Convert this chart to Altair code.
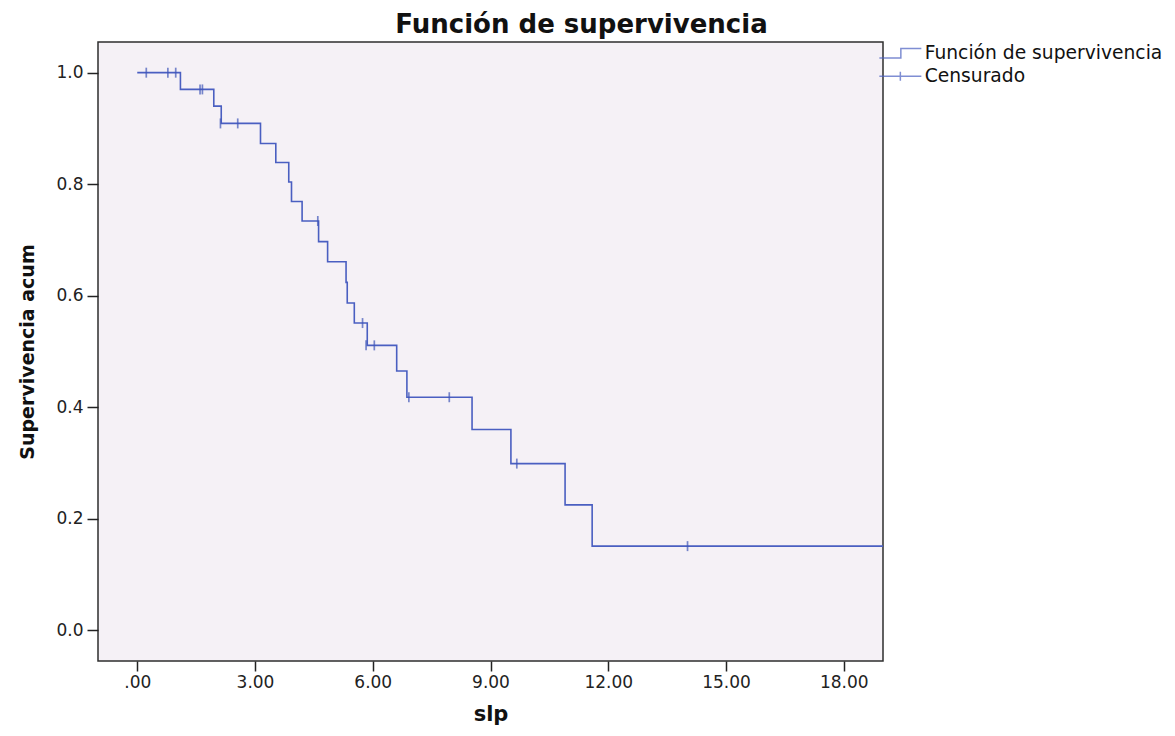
import altair as alt
import pandas as pd

# Kaplan-Meier step curve (time, cumulative survival)
step_time = [0.0, 1.10, 1.95, 2.14, 3.14, 3.53, 3.86, 3.93, 4.20, 4.62, 4.85,
             5.32, 5.35, 5.53, 5.86, 6.61, 6.87, 8.53, 9.52, 10.90, 11.59, 19.0]
step_surv = [1.000, 0.970, 0.940, 0.909, 0.873, 0.839, 0.804, 0.769, 0.734, 0.697,
             0.661, 0.624, 0.587, 0.551, 0.511, 0.465, 0.418, 0.360, 0.299, 0.225,
             0.151, 0.151]

# Censored observations
cens_time = [0.23, 0.78, 0.98, 1.60, 1.66, 2.12, 2.56, 4.60, 5.74, 5.83, 6.04,
             6.92, 7.95, 9.67, 14.02]
cens_surv = [1.000, 1.000, 1.000, 0.970, 0.970, 0.909, 0.909, 0.734, 0.551, 0.511,
             0.511, 0.418, 0.418, 0.299, 0.151]

x_ticks = [0, 3, 6, 9, 12, 15, 18]
y_ticks = [0.0, 0.2, 0.4, 0.6, 0.8, 1.0]
legend_names = ["Función de supervivencia", "Censurado"]

BLUE = "#4a5fc1"
FONT = "DejaVu Sans"

step_df = pd.DataFrame({"t": step_time, "s": step_surv})
cens_df = pd.DataFrame({"t": cens_time, "s": cens_surv})
leg_df = pd.DataFrame({"serie": legend_names})

xscale = alt.Scale(domain=[-1, 19], nice=False, zero=False)
yscale = alt.Scale(domain=[-0.055, 1.055], nice=False, zero=False)

xaxis = alt.Axis(values=x_ticks, title="slp",
                 labelExpr="datum.value == 0 ? '.00' : format(datum.value, '.2f')",
                 labelPadding=3, titlePadding=13, titleFontSize=21)
yaxis = alt.Axis(values=y_ticks, title="Supervivencia acum", format=".1f",
                 labelPadding=4, titlePadding=18, tickSize=11)

line = alt.Chart(step_df).mark_line(
    interpolate="step-after", color=BLUE, strokeWidth=1.6, clip=True
).encode(
    x=alt.X("t:Q", scale=xscale, axis=xaxis),
    y=alt.Y("s:Q", scale=yscale, axis=yaxis),
)

ticks = alt.Chart(cens_df).mark_tick(
    orient="vertical", size=10, thickness=1.7, color="#3f55b8", clip=True
).encode(
    x=alt.X("t:Q", scale=xscale),
    y=alt.Y("s:Q", scale=yscale),
)

step_glyph = "M-4.2,0.95L0.1,0.95L0.1,-0.95L4.2,-0.95"
cens_glyph = "M-4.2,0L4.2,0M0,-0.9L0,0.9"

legend_layer = alt.Chart(leg_df).mark_point(
    filled=False, clip=True, color=BLUE, strokeWidth=1.5
).encode(
    x=alt.value(-300),
    y=alt.value(-300),
    shape=alt.Shape(
        "serie:N",
        scale=alt.Scale(domain=legend_names, range=[step_glyph, cens_glyph]),
        legend=alt.Legend(
            title=None, orient="none", legendX=793, legendY=2,
            symbolSize=100, symbolStrokeWidth=1.5, symbolStrokeColor=BLUE,
            symbolFillColor="transparent",
            labelFont=FONT, labelFontSize=18.7, labelColor="#111", labelLimit=0,
            labelOffset=15, rowPadding=3, padding=0,
        ),
    ),
)

chart = alt.layer(line, ticks, legend_layer).properties(
    width=785,
    height=619,
    title=alt.Title(
        "Función de supervivencia", font=FONT, fontSize=26, fontWeight="bold",
        color="#111", anchor="middle", frame="group", dx=91, offset=4,
    ),
    autosize=alt.AutoSizeParams(type="none"),
    padding={"left": 90, "top": 34, "right": 280, "bottom": 67},
).configure(
    background="white"
).configure_view(
    fill="#f5f1f6", stroke="#2e2e2e", strokeWidth=1.5
).configure_axis(
    domain=False, grid=False,
    labelFont=FONT, labelFontSize=17, labelColor="#222",
    tickColor="#222", tickSize=10, tickWidth=1.5,
    titleFont=FONT, titleFontSize=19, titleFontWeight="bold", titleColor="#111",
)

chart.save("out.html", embed_options={"renderer": "svg", "actions": False})
